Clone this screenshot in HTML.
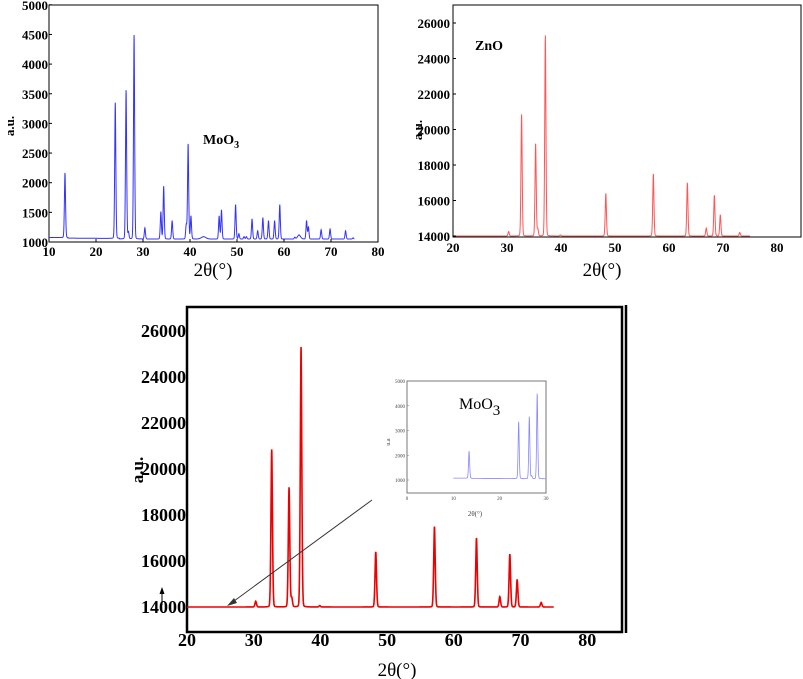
<!DOCTYPE html>
<html><head><meta charset="utf-8"><style>
html,body{margin:0;padding:0;background:#fff;}
svg{display:block;font-family:"Liberation Serif",serif;}
.t{font-weight:bold;font-size:13px;}
</style></head><body>
<svg id="s" width="803" height="679" xmlns="http://www.w3.org/2000/svg">
<!-- Panel 1 -->
<rect x="49" y="5" width="329" height="237" fill="none" stroke="#000" stroke-width="1"/>
<g id="p1"></g>
<text x="9" y="126" transform="rotate(-90 9 126)" dy="5" text-anchor="middle" style="font-weight:bold;font-size:13px">a.u.</text>
<text x="203" y="144" style="font-weight:bold;font-size:14px">MoO<tspan dy="4" style="font-size:10px">3</tspan></text>
<text x="213" y="276" text-anchor="middle" style="font-size:19px">2θ(°)</text>
<!-- Panel 2 -->
<rect x="453" y="5" width="348" height="232" fill="none" stroke="#000" stroke-width="1"/>
<g id="p2"></g>
<text x="475" y="50" style="font-weight:bold;font-size:14px">ZnO</text>
<text x="417" y="130" transform="rotate(-90 417 130)" dy="5" text-anchor="middle" style="font-weight:bold;font-size:13px">a.u.</text>
<text x="602" y="276" text-anchor="middle" style="font-size:19px">2θ(°)</text>
<!-- Panel 3 -->
<rect x="187" y="307" width="435" height="325" fill="none" stroke="#000" stroke-width="2.5"/>
<line x1="626" y1="305" x2="626" y2="633" stroke="#000" stroke-width="2.5"/>
<g id="p3"></g>
<text x="137" y="470" transform="rotate(-90 137 470)" dy="6" text-anchor="middle" style="font-weight:bold;font-size:17px">a.u.</text>
<text x="397" y="676" text-anchor="middle" style="font-size:19px">2θ(°)</text>
<line x1="162" y1="605" x2="162" y2="592" stroke="#000" stroke-width="1"/>
<polygon points="159.5,594 162,587 164.5,594" fill="#000"/>
<!-- inset -->
<rect x="407" y="381" width="139" height="112" fill="#fff" stroke="#777" stroke-width="1"/>
<g id="p4"></g>
<text x="459" y="409" style="font-size:16px">MoO<tspan dy="6" style="font-size:15px">3</tspan></text>
<text x="475" y="516" text-anchor="middle" style="font-size:7px;fill:#444">2θ(°)</text>
<text x="390" y="442" transform="rotate(-90 390 442)" text-anchor="middle" style="font-size:6px;fill:#444">u.a</text>
<line x1="372" y1="500" x2="230" y2="604" stroke="#333" stroke-width="1"/>
<polygon points="227,606 234,598 237,603" fill="#333"/>
</svg>
<script>
var NS="http://www.w3.org/2000/svg";
function el(g,tag,attrs,txt){var e=document.createElementNS(NS,tag);for(var k in attrs)e.setAttribute(k,attrs[k]);if(txt!==undefined)e.textContent=txt;document.getElementById(g).appendChild(e);return e;}
function spec(peaks,base,x0,x1,w){var pts=[];for(var x=x0;x<=x1;x+=0.02){var y=base(x);for(var i=0;i<peaks.length;i++){var s=(peaks[i][2]||w);var d=(x-peaks[i][0])/s;y+=peaks[i][1]*(0.85*Math.exp(-d*d*0.7)+0.15/(1+d*d*4));}pts.push([x,y]);}return pts;}
function path(g,pts,fx,fy,col,sw){var d="";pts.forEach(function(p,i){d+=(i?"L":"M")+fx(p[0]).toFixed(2)+" "+fy(p[1]).toFixed(2);});el(g,"path",{d:d,fill:"none",stroke:col,"stroke-width":sw});}
var mo=[[13.4,1090],[24.1,2290],[26.4,2510],[26.9,120],[28.1,3440],[30.4,190],[33.8,460],[34.4,890],[36.2,310],[39.2,240],[39.6,1600],[40.2,390],[42.9,40,0.6],[46.2,390],[46.7,490],[49.7,580],[50.4,90],[51.5,40],[52,40],[53.2,340],[54.4,140],[55.5,360],[56.7,310],[58,310],[59.1,580],[62.3,30],[63.2,70,0.4],[64.8,310],[65.2,200],[67.9,160],[69.8,170],[73.1,140],[74.7,20]];
var moBase=function(x){return x<14?1075:x<25?1065-(x-14)*0.5:1050;};
var mp=spec(mo,moBase,10,75,0.15);
path("p1",mp,function(x){return 49+(x-10)*4.7;},function(y){return 242-(y-1000)*0.0593;},"#3333ff",1);
var zn=[[30.3,250],[32.7,6850],[35.3,5200],[35.7,400],[37.1,11300],[39.9,60],[48.3,2400],[57.1,3500],[63.4,3000],[66.9,450],[68.4,2300],[69.5,1200],[73.1,200]];
var zp=spec(zn,function(){return 14000;},20,75,0.14);
path("p2",zp,function(x){return 453+(x-20)*5.4;},function(y){return 236-(y-14000)*0.01775;},"#ff5555",1);
path("p3",zp,function(x){return 187+(x-20)*6.67;},function(y){return 607-(y-14000)*0.023;},"#ee0000",1.6);
var ip=spec(mo,moBase,10,30,0.15);
path("p4",ip,function(x){return 407+x*139/30;},function(y){return 480-(y-1000)*0.02475;},"#8888ff",0.8);
for(var v=1000;v<=5000;v+=500){var y=242-(v-1000)*0.0593;el("p1","text",{x:48,y:y+5,"text-anchor":"end",class:"t"},v);el("p1","line",{x1:49,x2:52,y1:y,y2:y,stroke:"#000"});}
for(var v=10;v<=80;v+=10){var x=49+(v-10)*4.7;el("p1","text",{x:x,y:256,"text-anchor":"middle",class:"t"},v);el("p1","line",{x1:x,x2:x,y1:242,y2:239,stroke:"#000"});}
for(var v=14000;v<=26000;v+=2000){var y=236-(v-14000)*0.01775;el("p2","text",{x:450,y:y+5,"text-anchor":"end",class:"t"},v);el("p2","line",{x1:453,x2:456,y1:y,y2:y,stroke:"#000"});}
for(var v=20;v<=80;v+=10){var x=453+(v-20)*5.4;el("p2","text",{x:x,y:252,"text-anchor":"middle",class:"t"},v);}
for(var v=14000;v<=26000;v+=2000){var y=607-(v-14000)*0.023;el("p3","text",{x:186,y:y+6,"text-anchor":"end",class:"t",style:"font-size:18px"},v);}
for(var v=20;v<=80;v+=10){var x=187+(v-20)*6.67;el("p3","text",{x:x,y:646,"text-anchor":"middle",class:"t",style:"font-size:18px"},v);}
for(var v=1000;v<=5000;v+=1000){var y=480-(v-1000)*0.02475;el("p4","text",{x:405,y:y+2,"text-anchor":"end",style:"font-size:5px;fill:#444"},v);el("p4","line",{x1:407,x2:409,y1:y,y2:y,stroke:"#777","stroke-width":0.5});}
for(var v=0;v<=30;v+=10){var x=407+v*139/30;el("p4","text",{x:x,y:500,"text-anchor":"middle",style:"font-size:5px;fill:#444"},v);}
</script>
</body></html>
